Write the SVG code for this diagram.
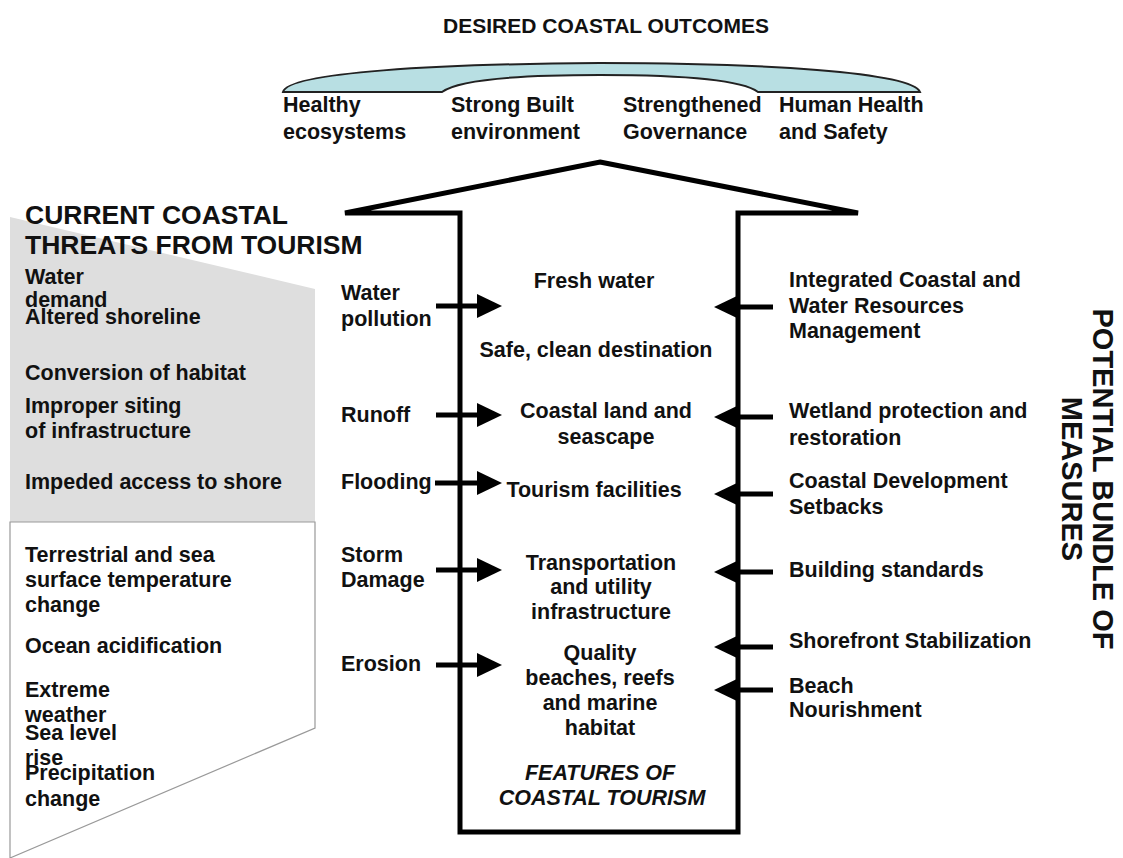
<svg xmlns="http://www.w3.org/2000/svg" width="1123" height="858" viewBox="0 0 1123 858">
<style>
text{font-family:"Liberation Sans",Arial,sans-serif;font-weight:bold;fill:#111;font-size:21.5px}
.t{font-size:21.5px}
.h{font-size:26.5px}
.title{font-size:21px}
.m{text-anchor:middle}
.it{font-style:italic}
.v{font-size:29px;text-anchor:middle}
.arr{stroke:#000;stroke-width:5;fill:none}
</style>
<defs>
<marker id="ah" markerUnits="userSpaceOnUse" markerWidth="26" markerHeight="26" viewBox="0 0 26 26" refX="3" refY="12" orient="auto">
<path d="M0,0 L25,12 L0,24 Z" fill="#000"/>
</marker>
</defs>
<rect width="1123" height="858" fill="#fff"/>

<g id="outcomes">
<text class="title m" x="606" y="33">DESIRED COASTAL OUTCOMES</text>
<path d="M283,92 C288,72 440,64 600,63 C760,63 912,72 920,92 L758,92 C742,80 690,75 600,75 C510,75 458,80 442,92 Z" fill="#b8dfe3" stroke="#222" stroke-width="2"/>
<text x="283" y="112">Healthy</text><text x="283" y="139">ecosystems</text>
<text x="451" y="112">Strong Built</text><text x="451" y="139">environment</text>
<text x="623" y="112">Strengthened</text><text x="623" y="139">Governance</text>
<text x="779" y="112">Human Health</text><text x="779" y="139">and Safety</text>
</g>

<g id="threats">
<polygon points="10,217 315,289 315,522 10,522" fill="#dedede"/>
<polygon points="10,522 315,522 315,728 10,858" fill="#fff" stroke="#999" stroke-width="1.2"/>
<text class="h" x="25" y="224">CURRENT COASTAL</text>
<text class="h" x="25" y="254">THREATS FROM TOURISM</text>
<text x="25" y="284">Water</text>
<text x="25" y="307">demand</text>
<text x="25" y="324">Altered shoreline</text>
<text x="25" y="380">Conversion of habitat</text>
<text x="25" y="413">Improper siting</text>
<text x="25" y="438">of infrastructure</text>
<text x="25" y="489">Impeded access to shore</text>
<text x="25" y="562">Terrestrial and sea</text>
<text x="25" y="587">surface temperature</text>
<text x="25" y="612">change</text>
<text x="25" y="653">Ocean acidification</text>
<text x="25" y="697">Extreme</text>
<text x="25" y="722">weather</text>
<text x="25" y="740">Sea level</text>
<text x="25" y="765">rise</text>
<text x="25" y="780">Precipitation</text>
<text x="25" y="806">change</text>
</g>

<g id="features">
<polygon points="600,162 858,213 738,213 738,832 460,832 460,213 345,213" fill="#fff" stroke="#000" stroke-width="5" stroke-linejoin="miter"/>
<text class="m" x="594" y="288">Fresh water</text>
<text class="m" x="596" y="357">Safe, clean destination</text>
<text class="m" x="606" y="418">Coastal land and</text>
<text class="m" x="606" y="444">seascape</text>
<text class="m" x="594" y="497">Tourism facilities</text>
<text class="m" x="601" y="570">Transportation</text>
<text class="m" x="601" y="594">and utility</text>
<text class="m" x="601" y="619">infrastructure</text>
<text class="m" x="600" y="660">Quality</text>
<text class="m" x="600" y="685">beaches, reefs</text>
<text class="m" x="600" y="710">and marine</text>
<text class="m" x="600" y="735">habitat</text>
<text class="m it" x="600" y="780">FEATURES OF</text>
<text class="m it" x="602" y="805">COASTAL TOURISM</text>
</g>

<g id="drivers">
<text x="341" y="300">Water</text>
<text x="341" y="326">pollution</text>
<text x="341" y="422">Runoff</text>
<text x="341" y="489">Flooding</text>
<text x="341" y="562">Storm</text>
<text x="341" y="587">Damage</text>
<text x="341" y="671">Erosion</text>
</g>

<g id="measures">
<text x="789" y="287">Integrated Coastal and</text>
<text x="789" y="313">Water Resources</text>
<text x="789" y="338">Management</text>
<text x="789" y="418">Wetland protection and</text>
<text x="789" y="445">restoration</text>
<text x="789" y="488">Coastal Development</text>
<text x="789" y="514">Setbacks</text>
<text x="789" y="577">Building standards</text>
<text x="789" y="648">Shorefront Stabilization</text>
<text x="789" y="693">Beach</text>
<text x="789" y="717">Nourishment</text>
<text class="v" transform="translate(1093,479) rotate(90)" x="0" y="0">POTENTIAL BUNDLE OF</text>
<text class="v" transform="translate(1062,479) rotate(90)" x="0" y="0">MEASURES</text>
</g>

<g id="connectors">
<line class="arr" x1="436" y1="306" x2="480" y2="306" marker-end="url(#ah)"/>
<line class="arr" x1="436" y1="415" x2="480" y2="415" marker-end="url(#ah)"/>
<line class="arr" x1="435" y1="483" x2="480" y2="483" marker-end="url(#ah)"/>
<line class="arr" x1="436" y1="570" x2="480" y2="570" marker-end="url(#ah)"/>
<line class="arr" x1="436" y1="665" x2="480" y2="665" marker-end="url(#ah)"/>
<line class="arr" x1="773" y1="307" x2="736" y2="307" marker-end="url(#ah)"/>
<line class="arr" x1="773" y1="417" x2="736" y2="417" marker-end="url(#ah)"/>
<line class="arr" x1="773" y1="494" x2="736" y2="494" marker-end="url(#ah)"/>
<line class="arr" x1="773" y1="572" x2="736" y2="572" marker-end="url(#ah)"/>
<line class="arr" x1="773" y1="647" x2="736" y2="647" marker-end="url(#ah)"/>
<line class="arr" x1="773" y1="690" x2="736" y2="690" marker-end="url(#ah)"/>
</g>
</svg>
